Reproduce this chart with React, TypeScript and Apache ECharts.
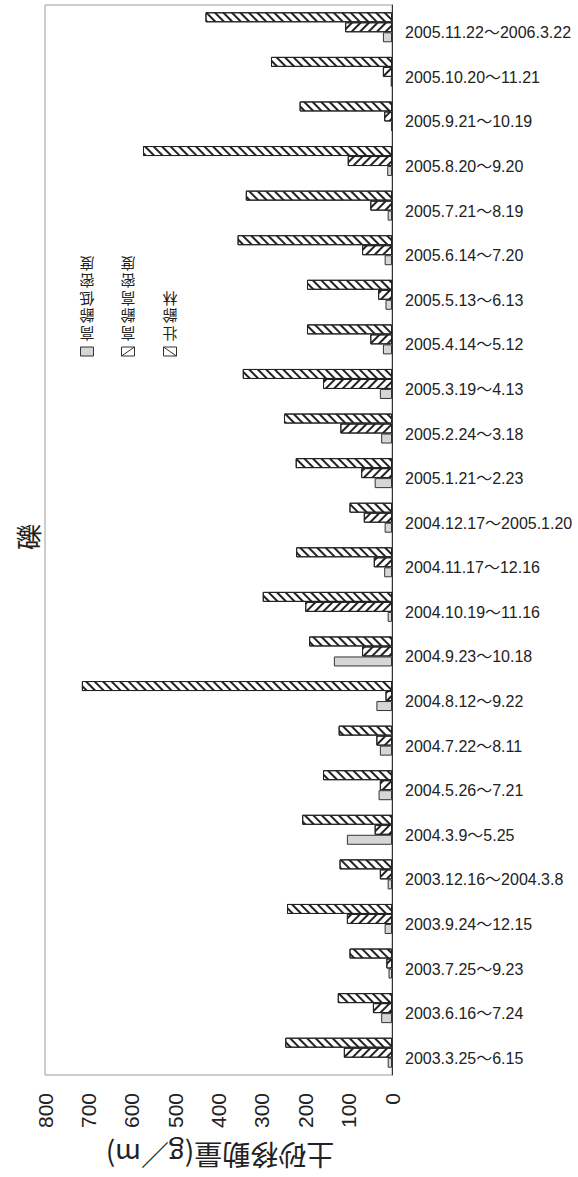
import React, { useEffect, useRef } from "react";
import * as echarts from "echarts";

const categories = [
  "2003.3.25～6.15",
  "2003.6.16～7.24",
  "2003.7.25～9.23",
  "2003.9.24～12.15",
  "2003.12.16～2004.3.8",
  "2004.3.9～5.25",
  "2004.5.26～7.21",
  "2004.7.22～8.11",
  "2004.8.12～9.22",
  "2004.9.23～10.18",
  "2004.10.19～11.16",
  "2004.11.17～12.16",
  "2004.12.17～2005.1.20",
  "2005.1.21～2.23",
  "2005.2.24～3.18",
  "2005.3.19～4.13",
  "2005.4.14～5.12",
  "2005.5.13～6.13",
  "2005.6.14～7.20",
  "2005.7.21～8.19",
  "2005.8.20～9.20",
  "2005.9.21～10.19",
  "2005.10.20～11.21",
  "2005.11.22～2006.3.22",
];

const seriesNames = ["高齢低密度", "高齢高密度", "壮齢林"];

const lowDensityOld = [10, 25, 8, 17, 10, 104, 31, 28, 36, 134, 10, 18, 17, 40, 25, 28, 21, 15, 17, 10, 11, 2, 3, 21];
const highDensityOld = [111, 44, 13, 104, 28, 40, 28, 36, 15, 69, 200, 42, 65, 71, 119, 159, 50, 32, 69, 50, 102, 18, 21, 108];
const matureForest = [246, 125, 98, 242, 121, 207, 159, 123, 715, 191, 298, 221, 98, 222, 249, 344, 196, 196, 356, 337, 574, 213, 279, 430];

const valueTicks = { min: 0, max: 800, interval: 100 };
const axisTitle = "土砂移動量(g／m)";
const panelTitle = "礫";

export default function App() {
  const ref = useRef<HTMLDivElement>(null);
  useEffect(() => {
    if (!ref.current) return;
    const chart = echarts.init(ref.current, null, { renderer: "svg" });
    const latin = "'Liberation Sans', Arial, 'Noto Sans CJK JP', sans-serif";
    const cjk = "'Noto Sans CJK JP', sans-serif";
    const hatch = (rot: number) => ({
      symbol: "rect",
      symbolSize: 1,
      dashArrayX: [1, 0],
      dashArrayY: [1.4, 4],
      rotation: rot,
      color: "#222",
      backgroundColor: "#fff",
    });
    const legendCols = [87, 128, 170];
    const graphics: any[] = [];
    legendCols.forEach((cx, i) => {
      const name = seriesNames[i];
      graphics.push({
        type: "text",
        x: cx,
        y: 343,
        rotation: Math.PI,
        style: {
          text: name.split("").join("\n"),
          align: "center",
          verticalAlign: "top",
          lineHeight: 17.5,
          fontSize: 15,
          fontFamily: cjk,
          fill: "#222",
        },
      });
      graphics.push({
        type: "rect",
        shape: { x: cx - 6.5, y: 347, width: 13, height: 9 },
        style: { fill: i === 0 ? "#d6d6d6" : "#fff", stroke: "#333", lineWidth: 1 },
      });
      if (i === 1) {
        graphics.push({
          type: "line",
          shape: { x1: cx - 6.5, y1: 356, x2: cx + 6.5, y2: 347 },
          style: { stroke: "#333", lineWidth: 1 },
        });
      }
      if (i === 2) {
        graphics.push({
          type: "line",
          shape: { x1: cx - 6.5, y1: 347, x2: cx + 6.5, y2: 356 },
          style: { stroke: "#333", lineWidth: 1 },
        });
      }
    });
    graphics.push({
      type: "text",
      x: 27,
      y: 537,
      rotation: Math.PI / 2,
      style: {
        text: panelTitle,
        align: "center",
        verticalAlign: "middle",
        fontSize: 26,
        fontFamily: cjk,
        fill: "#222",
      },
    });
    graphics.push({
      type: "text",
      x: 220,
      y: 1156,
      rotation: Math.PI,
      style: {
        text: axisTitle,
        align: "center",
        verticalAlign: "middle",
        fontSize: 28,
        fontFamily: cjk,
        fill: "#222",
      },
    });

    const barCommon = {
      type: "bar",
      barWidth: 10,
      barGap: "0%",
    };

    chart.setOption({
      animation: false,
      backgroundColor: "#fff",
      grid: {
        left: 45,
        right: 186,
        top: 5,
        bottom: 102,
        show: true,
        borderColor: "#9a9a9a",
        borderWidth: 1,
        backgroundColor: "transparent",
      },
      xAxis: {
        type: "value",
        inverse: true,
        min: valueTicks.min,
        max: valueTicks.max,
        interval: valueTicks.interval,
        position: "bottom",
        axisLine: { show: false },
        axisTick: { show: false },
        splitLine: { show: false },
        axisLabel: {
          rotate: 90,
          margin: 18,
          fontSize: 21,
          fontFamily: latin,
          color: "#222",
        },
      },
      yAxis: {
        type: "category",
        data: categories,
        position: "right",
        axisLine: { show: true, lineStyle: { color: "#333", width: 1 } },
        axisTick: { show: false },
        splitLine: { show: false },
        axisLabel: {
          margin: 13,
          fontSize: 16,
          fontFamily: latin,
          color: "#222",
          verticalAlign: "top",
          lineHeight: 11,
        },
      },
      graphic: graphics,
      series: [
        {
          ...barCommon,
          name: seriesNames[2],
          data: matureForest,
          itemStyle: { color: "#fff", borderColor: "#222", borderWidth: 1, decal: hatch(Math.PI / 4) },
        },
        {
          ...barCommon,
          name: seriesNames[1],
          data: highDensityOld,
          itemStyle: { color: "#fff", borderColor: "#222", borderWidth: 1, decal: hatch(-Math.PI / 4) },
        },
        {
          ...barCommon,
          name: seriesNames[0],
          data: lowDensityOld,
          itemStyle: { color: "#d6d6d6", borderColor: "#333", borderWidth: 1 },
        },
      ],
    });
    return () => chart.dispose();
  }, []);
  return (
    <div
      ref={ref}
      style={{ position: "fixed", left: 0, top: 0, width: 578, height: 1177, background: "#fff" }}
    />
  );
}
